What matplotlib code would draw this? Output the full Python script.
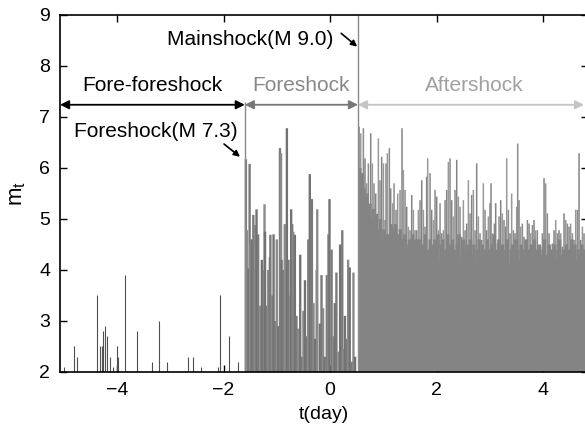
import matplotlib
matplotlib.use('Agg')
import matplotlib.pyplot as plt

plt.rcParams['font.family'] = ['Liberation Sans', 'DejaVu Sans']
plt.rcParams['mathtext.fontset'] = 'custom'
plt.rcParams['mathtext.rm'] = 'Liberation Sans'
plt.rcParams['mathtext.it'] = 'Liberation Sans'

# fore-foreshock events (day, magnitude)
ff_t = [-4.99, -4.81, -4.76, -4.37, -4.31, -4.29, -4.27, -4.22, -4.18, -4.13,
        -4.07, -4.00, -3.98, -3.85, -3.63, -3.34, -3.22, -3.07, -2.66, -2.57,
        -2.42, -2.10, -2.06, -1.90, -1.72]
ff_m = [2.1, 2.5, 2.3, 3.5, 2.5, 2.5, 2.8, 2.9, 2.7, 2.3,
        2.1, 2.5, 2.3, 3.9, 2.8, 2.2, 3.0, 2.2, 2.3, 2.3,
        2.1, 2.1, 3.5, 2.7, 2.2]

# foreshock sequence
fs_t = [-1.58, -1.56, -1.53, -1.51, -1.50, -1.47, -1.44, -1.41, -1.38, -1.35,
        -1.31, -1.28, -1.25, -1.23, -1.22, -1.19, -1.16, -1.13, -1.12, -1.09,
        -1.06, -1.03, -1.00, -0.97, -0.94, -0.92, -0.91, -0.88, -0.85, -0.81,
        -0.78, -0.75, -0.73, -0.71, -0.69, -0.66, -0.63, -0.60, -0.56, -0.53,
        -0.50, -0.47, -0.44, -0.41, -0.38, -0.34, -0.31, -0.28, -0.25, -0.24,
        -0.19, -0.16, -0.13, -0.10, -0.06, -0.03, -0.01, 0.03, 0.06, 0.09,
        0.12, 0.16, 0.19, 0.23, 0.25, 0.28, 0.31, 0.34, 0.37, 0.41,
        0.44, 0.47]
fs_m = [6.17, 4.78, 4.03, 6.08, 4.5, 4.6, 5.08, 4.88, 5.19, 4.7,
        3.3, 4.2, 4.0, 5.29, 4.75, 3.3, 4.0, 4.25, 4.69, 3.5,
        4.7, 3.0, 4.6, 2.9, 6.39, 6.29, 4.2, 4.0, 4.9, 6.78,
        4.2, 3.5, 5.19, 4.9, 4.75, 4.69, 3.1, 2.85, 4.3, 2.3,
        3.2, 3.8, 2.7, 4.6, 5.88, 5.39, 3.35, 2.65, 4.0, 5.19,
        2.95, 3.9, 3.25, 2.3, 3.9, 4.7, 5.39, 4.4, 2.7, 3.35,
        3.95, 2.4, 4.5, 4.78, 2.45, 3.1, 2.65, 4.2, 4.05, 2.2,
        3.95, 2.3]

# aftershocks, the larger visible ones
as_t = [0.545, 0.576, 0.626, 0.657, 0.689, 0.720, 0.764, 0.795, 0.826, 0.858,
        0.908, 0.939, 0.970, 1.002, 1.033, 1.052, 1.077, 1.114, 1.139, 1.177,
        1.202, 1.240, 1.271, 1.315, 1.352, 1.377, 1.409, 1.440, 1.471, 1.502,
        1.534, 1.565, 1.596, 1.628, 1.659, 1.690, 1.722, 1.753, 1.784, 1.815,
        1.834, 1.878, 1.909, 1.941, 1.972, 2.003, 2.035, 2.066, 2.097, 2.128,
        2.160, 2.191, 2.222, 2.254, 2.285, 2.316, 2.347, 2.379, 2.410, 2.441,
        2.473, 2.504, 2.535, 2.567, 2.598,
        2.629, 2.660, 2.692, 2.723, 2.754, 2.785, 2.817, 2.848, 2.879, 2.911,
        2.942, 2.973, 3.004, 3.023, 3.048, 3.086, 3.111, 3.142, 3.174, 3.205,
        3.236, 3.267, 3.299, 3.318, 3.349, 3.380, 3.411, 3.443, 3.474, 3.505,
        3.524, 3.549, 3.580, 3.612, 3.643, 3.674, 3.706, 3.737, 3.768, 3.800,
        3.831, 3.862, 3.893, 3.925, 3.956, 3.987, 4.019, 4.050, 4.081, 4.113,
        4.144, 4.175, 4.206, 4.238, 4.269, 4.300, 4.332, 4.363, 4.394, 4.426,
        4.457, 4.488, 4.519, 4.551, 4.582, 4.613, 4.645, 4.676, 4.707, 4.739,
        4.770]
as_m = [6.81, 6.68, 6.78, 6.19, 5.70, 6.09, 6.68, 6.09, 5.70, 5.50,
        6.58, 5.76, 6.22, 6.09, 4.98, 6.09, 6.29, 6.39, 5.60, 5.31,
        5.70, 5.18, 5.50, 5.57, 6.78, 5.96, 5.57, 5.24, 4.85, 4.78,
        5.47, 5.18, 4.78, 4.78, 5.18, 5.37, 5.76, 5.18, 4.85, 5.83,
        6.19, 5.90, 5.18, 4.98, 5.57, 5.44, 4.78, 5.31, 4.72, 4.78,
        5.37, 5.57, 6.12, 6.19, 5.37, 5.05, 5.57, 6.16, 5.44, 5.24,
        4.65, 5.37, 4.78, 4.91, 5.76,
        5.11, 5.47, 5.57, 4.78, 6.09, 5.05, 4.72, 4.59, 5.70, 5.18,
        4.78, 5.05, 5.31, 5.70, 4.72, 4.91, 5.31, 4.52, 5.05, 5.37,
        5.11, 4.98, 4.85, 6.19, 5.18, 4.72, 5.50, 4.78, 4.72, 5.24,
        6.48, 5.37, 4.85, 4.91, 4.65, 4.59, 4.98, 4.91, 4.72, 4.88,
        4.98, 4.78, 4.78, 4.39, 4.46, 4.72, 5.80, 5.70, 5.11, 4.72,
        4.39, 4.52, 4.78, 4.98, 4.72, 4.78, 4.72, 4.46, 5.11, 4.98,
        4.91, 4.85, 4.91, 4.72, 4.59, 5.18, 5.18, 6.29, 4.59, 4.85,
        4.72]

# aftershocks, the dense smaller ones underneath
bg_t = [0.56, 0.59, 0.61, 0.64, 0.67, 0.70, 0.73, 0.75, 0.78, 0.81,
        0.84, 0.87, 0.89, 0.92, 0.95, 0.98, 1.01, 1.04, 1.06, 1.09,
        1.12, 1.15, 1.18, 1.21, 1.23, 1.26, 1.29, 1.32, 1.35, 1.38,
        1.40, 1.43, 1.46, 1.49, 1.52, 1.55, 1.58, 1.61, 1.64, 1.67,
        1.70, 1.73, 1.76, 1.79, 1.82, 1.85, 1.88, 1.91, 1.94, 1.97,
        2.00, 2.03, 2.06, 2.09, 2.12, 2.15, 2.18, 2.21, 2.24, 2.27,
        2.30, 2.33, 2.36, 2.39, 2.42, 2.45, 2.48, 2.51, 2.54, 2.57,
        2.61, 2.64, 2.67, 2.70, 2.73, 2.76, 2.80, 2.83, 2.86, 2.89,
        2.92, 2.95, 2.99, 3.02, 3.05, 3.08, 3.11, 3.14, 3.17, 3.21,
        3.24, 3.27, 3.30, 3.33, 3.36, 3.40, 3.43, 3.46, 3.49, 3.52,
        3.55, 3.59, 3.62, 3.65, 3.68, 3.71, 3.74, 3.78, 3.81, 3.84,
        3.87, 3.90, 3.93, 3.97, 4.00, 4.03, 4.06, 4.09, 4.12, 4.16,
        4.19, 4.22, 4.25, 4.28, 4.31, 4.35, 4.38, 4.41, 4.44, 4.47,
        4.50, 4.54, 4.57, 4.60, 4.63, 4.66, 4.69, 4.73, 4.76, 4.80]
bg_m = [6.0, 5.8, 5.9, 5.6, 5.4, 5.5, 5.2, 5.3, 5.0, 5.2,
        4.9, 5.1, 4.8, 4.7, 5.0, 4.6, 4.8, 4.5, 4.7, 4.6,
        4.7, 4.9, 4.6, 4.8, 4.9, 4.5, 4.7, 4.8, 4.5, 4.6,
        4.7, 4.5, 4.4, 4.6, 4.5, 4.7, 4.3, 4.6, 4.6, 4.4,
        4.6, 4.3, 4.5, 4.7, 4.2, 4.4, 4.6, 4.5, 4.3, 4.6,
        4.4, 4.7, 4.2, 4.5, 4.6, 4.3, 4.4, 4.7, 4.5, 4.2,
        4.6, 4.4, 4.3, 4.5, 4.7, 4.2, 4.4, 4.6, 4.3, 4.5,
        4.4, 4.6, 4.3, 4.5, 4.1, 4.4, 4.6, 4.2, 4.5, 4.4,
        4.3, 4.6, 4.4, 4.2, 4.5, 4.7, 4.3, 4.4, 4.6, 4.2,
        4.5, 4.3, 4.4, 4.6, 4.1, 4.4, 4.5, 4.3, 4.6, 4.4,
        4.2, 4.5, 4.4, 4.3, 4.6, 4.2, 4.4, 4.5, 4.3, 4.6,
        4.4, 4.2, 4.5, 4.3, 4.4, 4.6, 4.2, 4.3, 4.5, 4.4,
        4.3, 4.5, 4.2, 4.4, 4.6, 4.3, 4.4, 4.2, 4.5, 4.3,
        4.4, 4.6, 4.3, 4.5, 4.2, 4.4, 4.3, 4.5, 4.4, 4.3]

t_fore, m_fore = -1.60, 7.3
t_main, m_main = 0.525, 9.0

fig = plt.figure(figsize=(5.85, 4.36), dpi=100)
ax = fig.add_axes([0.1026, 0.1468, 0.9026, 0.8188])

ax.vlines(ff_t, 2, ff_m, color='#505050', lw=0.8)
ax.vlines(fs_t, 2, fs_m, color=['#7a7a7a', '#8a8a8a', '#727272'] * 24, lw=1.7, snap=False)
# tall aftershocks first, the dense layer goes over their lower part
ax.vlines(as_t, 2, as_m, color=['#848484', '#999999', '#8c8c8c'] * 44 + ['#848484'],
          lw=1.1, snap=False)
ax.vlines(bg_t, 2, bg_m, color='#848484', lw=2.4, snap=False)
ax.vlines([t_fore], 2, m_fore, color='#8a8a8a', lw=1.0)
ax.vlines([t_main], 2, m_main, color='#8a8a8a', lw=1.0)

# period arrows
y_arr = 7.24
ax.annotate('', xy=(t_fore, y_arr), xytext=(-5.07, y_arr),
            arrowprops=dict(arrowstyle='<|-|>', color='black', lw=1.3,
                            mutation_scale=13, shrinkA=0, shrinkB=0))
ax.annotate('', xy=(t_main, y_arr), xytext=(t_fore, y_arr),
            arrowprops=dict(arrowstyle='<|-|>', color='#777777', lw=1.3,
                            mutation_scale=13, shrinkA=0, shrinkB=0))
ax.annotate('', xy=(4.77, y_arr), xytext=(t_main, y_arr),
            arrowprops=dict(arrowstyle='<|-|>', color='#c4c4c4', lw=1.3,
                            mutation_scale=13, shrinkA=0, shrinkB=0))

ax.text(-3.34, 7.61, 'Fore-foreshock', ha='center', va='center', fontsize=15, color='black')
ax.text(-0.54, 7.61, 'Foreshock', ha='center', va='center', fontsize=15, color='#888888')
ax.text(2.71, 7.61, 'Aftershock', ha='center', va='center', fontsize=15, color='#a0a0a0')

ax.text(0.06, 8.52, 'Mainshock(M 9.0)', ha='right', va='center', fontsize=15)
ax.annotate('', xy=(0.51, 8.38), xytext=(0.21, 8.64),
            arrowprops=dict(arrowstyle='-|>', color='black', lw=1.2,
                            mutation_scale=9, shrinkA=0, shrinkB=0))
ax.text(-1.73, 6.71, 'Foreshock(M 7.3)', ha='right', va='center', fontsize=15)
ax.annotate('', xy=(-1.69, 6.22), xytext=(-1.99, 6.47),
            arrowprops=dict(arrowstyle='-|>', color='black', lw=1.2,
                            mutation_scale=9, shrinkA=0, shrinkB=0))

ax.set_xlim(-5.07, 4.845)
ax.set_ylim(2, 9)
ax.set_xticks([-4, -2, 0, 2, 4])
ax.set_xticklabels(['\u22124', '\u22122', '0', '2', '4'])
ax.set_yticks(range(2, 10))
ax.tick_params(direction='in', top=True, right=True, labelsize=14, length=5, width=1, pad=7)
for s in ax.spines.values():
    s.set_linewidth(1.2)
ax.set_xlabel('t(day)', fontsize=14, labelpad=5)
ax.set_ylabel(r'$\mathrm{m_t}$', fontsize=16, labelpad=8)

fig.savefig('out.png', dpi=100)
